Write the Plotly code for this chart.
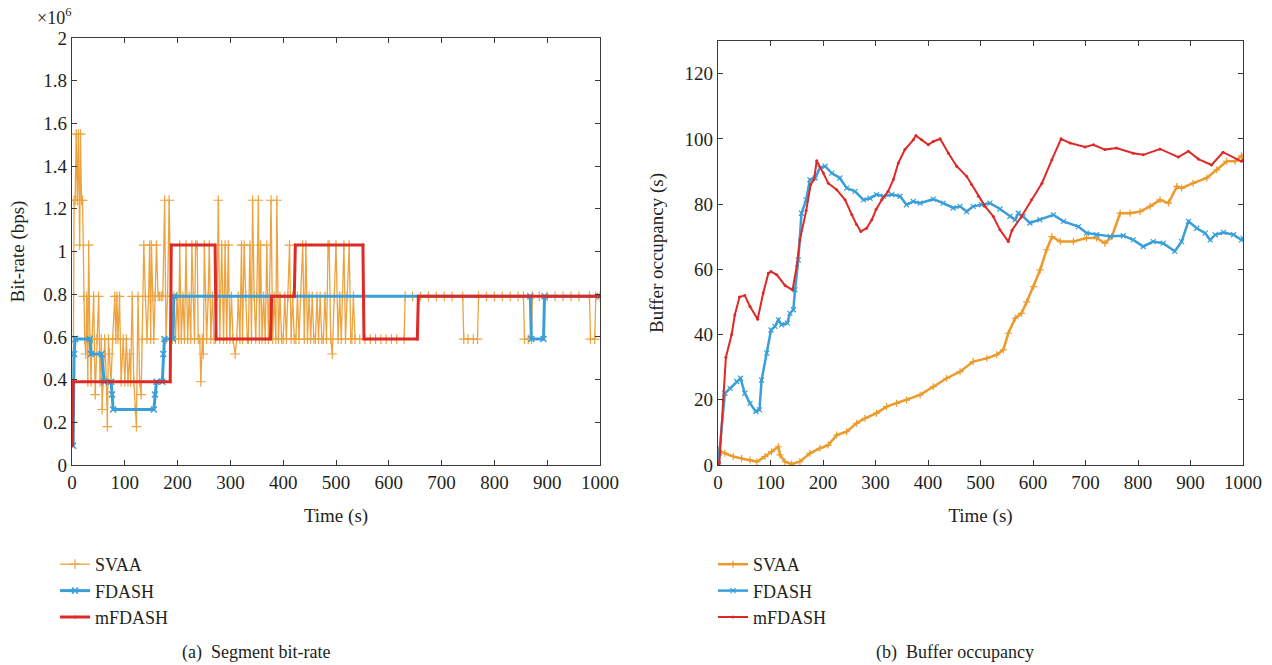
import plotly.graph_objects as go

# ---------------- (a) Segment bit-rate (values in units of 1e6 bps) ----------------
svaa_br_t = [0, 2, 4, 6, 8, 10, 12, 14.5, 16, 18, 20, 22, 24, 26, 28, 30, 31.5, 34, 36, 38,
             41, 44, 47, 50.5, 53, 55.5, 57, 59, 62, 65, 67, 69, 71, 74, 77, 81, 83, 85, 87, 90,
             93, 97, 100, 103, 106, 109, 111, 114, 117, 120, 122, 125, 128, 131, 133, 136, 139, 142, 145, 147,
             149, 150.5, 153, 155, 157.5, 160, 163, 166, 169, 172, 175.5, 178, 181, 184, 187, 190, 193, 196, 199, 202,
             204, 207, 210, 213, 216, 219, 222, 225, 227, 230, 232, 234, 237, 239, 242, 244, 247, 248.7, 250.6, 253,
             255, 258, 260, 263, 266, 269, 272, 275, 277, 280, 283.5, 287, 290, 293, 296, 299, 302, 305, 309, 312,
             315, 318, 321, 323, 326, 329, 332, 334, 337, 340, 342, 345, 348, 350, 353, 355, 357, 360, 363, 366,
             369, 372, 374, 377, 380, 383, 386, 388, 391, 394, 397, 400, 403, 406, 409, 412, 415, 418, 421, 424,
             427, 430, 433, 437, 440, 443, 446, 449, 452, 455, 458, 461, 464, 467, 470, 473, 476, 479, 482, 485,
             487, 490, 493, 497, 500, 504, 507, 510, 512, 515, 518, 521, 525, 528, 530, 533, 536, 545, 555, 565,
             575, 585, 595, 605, 615, 629, 631, 645, 660, 675, 690, 705, 720, 740, 742, 750, 760, 768, 770, 785,
             800, 815, 830, 845, 855, 857, 864, 870, 872, 885, 900, 915, 930, 945, 960, 980, 982, 990, 992, 1000]
svaa_br_v = [0.2, 0.2, 1.24, 1.24, 1.55, 1.24, 1.55, 1.03, 1.55, 1.24, 1.24, 0.79, 0.59, 0.52, 0.79, 0.39, 1.03, 0.59, 0.39, 0.59,
             0.79, 0.33, 0.59, 0.79, 0.39, 0.59, 0.26, 0.39, 0.59, 0.39, 0.18, 0.59, 0.52, 0.39, 0.59, 0.79, 0.59, 0.79, 0.59, 0.79,
             0.39, 0.59, 0.39, 0.59, 0.39, 0.52, 0.39, 0.79, 0.39, 0.26, 0.18, 0.79, 0.39, 0.33, 0.59, 1.03, 0.79, 0.59, 0.79, 1.03,
             0.59, 1.03, 0.79, 0.59, 0.79, 1.03, 0.79, 0.79, 0.79, 0.79, 1.24, 0.59, 0.79, 1.24, 0.79, 0.59, 0.79, 0.59, 0.79, 0.59,
             1.03, 0.59, 0.79, 0.59, 1.03, 0.59, 0.79, 0.59, 1.03, 0.79, 0.59, 1.03, 1.03, 0.59, 0.59, 0.39, 0.59, 0.52, 1.03, 0.79,
             0.59, 0.79, 1.03, 0.59, 0.79, 0.59, 0.59, 0.79, 1.24, 0.59, 1.03, 0.59, 1.03, 0.59, 1.03, 0.59, 0.79, 0.59, 0.52, 0.59,
             0.79, 0.59, 1.03, 0.59, 1.03, 0.79, 0.59, 0.59, 1.03, 0.59, 1.24, 0.79, 0.59, 0.79, 1.24, 0.59, 1.03, 0.59, 0.79, 0.59,
             1.03, 0.59, 0.79, 1.24, 0.59, 0.79, 0.59, 1.24, 0.59, 0.79, 0.59, 0.59, 0.79, 0.59, 0.79, 1.03, 0.59, 0.79, 0.59, 0.59,
             0.79, 0.59, 0.79, 1.03, 0.59, 1.03, 0.59, 0.79, 0.59, 0.79, 0.59, 0.59, 0.79, 0.59, 0.79, 0.59, 0.59, 0.79, 0.59, 1.03,
             1.03, 0.59, 0.52, 0.79, 1.03, 0.59, 0.79, 0.59, 0.79, 1.03, 0.59, 0.79, 1.03, 0.59, 0.59, 0.79, 0.59, 0.59, 0.59, 0.59,
             0.59, 0.59, 0.59, 0.59, 0.59, 0.59, 0.79, 0.79, 0.79, 0.79, 0.79, 0.79, 0.79, 0.79, 0.59, 0.59, 0.59, 0.59, 0.79, 0.79,
             0.79, 0.79, 0.79, 0.79, 0.79, 0.59, 0.59, 0.59, 0.79, 0.79, 0.79, 0.79, 0.79, 0.79, 0.79, 0.79, 0.59, 0.59, 0.79, 0.79]

fdash_br_t = [2, 4, 6, 34, 36, 56, 61, 74, 76, 78, 155, 157, 160, 171, 173, 175, 191, 193, 868, 870, 893, 895, 1000]
fdash_br_v = [0.09, 0.52, 0.59, 0.59, 0.52, 0.52, 0.39, 0.39, 0.33, 0.26, 0.26, 0.33, 0.39, 0.39, 0.52, 0.59, 0.59, 0.79,
              0.79, 0.59, 0.59, 0.79, 0.79]

mfdash_br_t = [1, 2, 186, 188, 271, 273, 376, 378, 421, 423, 551, 553, 654, 656, 1000]
mfdash_br_v = [0.09, 0.39, 0.39, 1.03, 1.03, 0.59, 0.59, 0.79, 0.79, 1.03, 1.03, 0.59, 0.59, 0.79, 0.79]

# ---------------- (b) Buffer occupancy (s) ----------------
svaa_buf_t = [1, 2.5, 13, 29, 45, 61, 74, 89.5, 102, 115, 118, 127.6, 140, 156, 175, 194, 210, 226, 245, 264,
              280, 302, 321, 340, 359, 385, 410, 435.6, 461, 486, 512, 531, 543.5, 553, 566, 578, 588, 601, 613.6, 626,
              636, 652, 677, 702, 721, 737, 750, 766, 785, 804, 823, 842, 858, 874, 883, 905, 931, 950, 969, 985,
              997, 1000]
svaa_buf_v = [4.5, 4.1, 3.6, 2.6, 2.0, 1.5, 1.0, 2.6, 4.1, 5.6, 3.1, 1.0, 0.3, 1.0, 3.6, 5.1, 6.1, 9.2, 10.2, 12.8,
              14.3, 15.9, 17.9, 18.9, 19.9, 21.5, 24.0, 26.6, 28.6, 31.7, 32.7, 33.8, 35.3, 40.4, 45.0, 46.5, 50.0, 54.7, 59.8, 66.0,
              70.0, 68.5, 68.5, 69.6, 69.6, 68.0, 70.0, 77.2, 77.2, 77.7, 79.3, 81.3, 80.3, 85.4, 84.9, 86.4, 88.0, 90.5, 93.1, 93.1,
              94.8, 94.5]

fdash_buf_t = [1, 2.5, 13, 23, 35.5, 43, 51, 61, 72, 79, 83, 93, 101, 108.6, 115, 121, 132, 137, 143.5, 146.7,
               153, 159, 168, 175, 185, 194, 204, 216.5, 232, 245, 261, 277, 289.5, 302, 315, 331, 346.7, 359, 372, 385,
               410, 429, 448, 461, 473.6, 486, 502, 518, 537, 556, 566, 572, 581, 594, 613, 639, 658, 686.5, 702, 721,
               747, 772, 791, 810, 829, 848, 870, 883, 896, 912, 928, 937.5, 947, 963, 982, 997, 1000]
fdash_buf_v = [0.5, 3.6, 22.0, 23.5, 25.6, 26.6, 22.0, 18.9, 16.4, 16.9, 26.0, 34.3, 41.4, 42.5, 44.5, 43.0, 43.5, 46.5, 47.6, 53.7,
               62.9, 77.2, 81.3, 87.5, 88.0, 91.0, 91.6, 89.5, 88.0, 84.9, 83.9, 81.3, 81.8, 82.9, 82.4, 82.9, 82.4, 79.8, 80.8, 80.3,
               81.5, 80.3, 78.8, 79.3, 77.7, 79.3, 79.8, 80.3, 78.5, 76.2, 75.2, 77.2, 76.2, 74.2, 75.2, 76.7, 74.7, 73.1, 71.1, 70.6,
               70.1, 70.3, 69.0, 67.0, 68.5, 68.0, 65.5, 68.5, 74.7, 72.6, 71.1, 69.0, 70.6, 71.3, 70.6, 69.0, 69.5]

mfdash_buf_t = [1, 2.5, 10, 15, 26, 32, 41, 51, 61, 75.5, 86, 96, 101, 112, 128, 142, 150, 156, 168, 176.5,
                183, 188, 200.6, 210, 226, 242, 255, 264, 272, 283, 293, 301, 312, 324, 334, 343.5, 356, 372, 377, 388,
                400.6, 410, 423, 439, 454.6, 473.6, 483, 496, 508.6, 524.4, 537, 553, 560, 578, 597, 617, 636, 653.5, 670.5, 699,
                715, 737, 759, 791, 810, 842, 877, 896, 915, 940, 962, 997, 1000]
mfdash_buf_v = [0.3, 0.5, 20.0, 33.0, 40.0, 46.0, 51.5, 52.0, 48.6, 44.7, 52.7, 58.8, 59.3, 58.3, 55.0, 53.7, 61.0, 69.0, 78.0, 86.0,
                87.5, 93.3, 89.5, 86.4, 84.4, 81.3, 76.7, 73.7, 71.6, 72.6, 75.2, 78.3, 81.3, 83.9, 87.5, 92.6, 96.7, 99.7, 101.0, 99.7,
                98.2, 99.2, 100.0, 95.6, 91.6, 88.5, 86.0, 82.4, 79.3, 76.2, 72.1, 68.5, 72.0, 76.2, 81.3, 86.4, 93.6, 100.0, 98.7, 97.5,
                98.2, 96.7, 97.2, 95.6, 95.1, 96.9, 94.4, 96.2, 93.8, 92.0, 95.9, 93.1, 93.5]

series_names = ["SVAA", "FDASH", "mFDASH"]
x_ticks = [0, 100, 200, 300, 400, 500, 600, 700, 800, 900, 1000]
br_ticks = [0, 0.2, 0.4, 0.6, 0.8, 1.0, 1.2, 1.4, 1.6, 1.8, 2.0]
br_tick_text = ["0", "0.2", "0.4", "0.6", "0.8", "1", "1.2", "1.4", "1.6", "1.8", "2"]
buf_ticks = [0, 20, 40, 60, 80, 100, 120]

ORANGE = "#EC9A2B"
BLUE = "#3A9FD9"
RED = "#DD2A26"
FONT = "Liberation Serif"
TXT = "#231F20"
AX = "#3a3a3a"

W, H = 1272, 665


def px(x):
    return x / W


def py(y):
    return 1 - y / H


fig = go.Figure()

# left panel
fig.add_trace(go.Scatter(x=svaa_br_t, y=svaa_br_v, mode="lines+markers", name=series_names[0],
                         line=dict(color=ORANGE, width=1.3), opacity=0.9,
                         marker=dict(symbol="cross-thin", size=7, color=ORANGE, line=dict(width=1.2, color=ORANGE)),
                         xaxis="x", yaxis="y", legend="legend", legendgroup="a1"))
fig.add_trace(go.Scatter(x=fdash_br_t, y=fdash_br_v, mode="lines+markers", name=series_names[1],
                         line=dict(color=BLUE, width=3),
                         marker=dict(symbol="x-thin", size=6, color=BLUE, line=dict(width=1.5, color=BLUE)),
                         xaxis="x", yaxis="y", legend="legend", legendgroup="a2"))
fig.add_trace(go.Scatter(x=mfdash_br_t, y=mfdash_br_v, mode="lines+markers", name=series_names[2],
                         line=dict(color=RED, width=3),
                         marker=dict(symbol="circle", size=3, color=RED),
                         xaxis="x", yaxis="y", legend="legend", legendgroup="a3"))

# right panel
fig.add_trace(go.Scatter(x=svaa_buf_t, y=svaa_buf_v, mode="lines+markers", name=series_names[0],
                         line=dict(color=ORANGE, width=2.5),
                         marker=dict(symbol="cross-thin", size=5, color=ORANGE, line=dict(width=1.2, color=ORANGE)),
                         xaxis="x2", yaxis="y2", legend="legend2", legendgroup="b1"))
fig.add_trace(go.Scatter(x=fdash_buf_t, y=fdash_buf_v, mode="lines+markers", name=series_names[1],
                         line=dict(color=BLUE, width=2.5),
                         marker=dict(symbol="x-thin", size=5, color=BLUE, line=dict(width=1.2, color=BLUE)),
                         xaxis="x2", yaxis="y2", legend="legend2", legendgroup="b2"))
fig.add_trace(go.Scatter(x=mfdash_buf_t, y=mfdash_buf_v, mode="lines+markers", name=series_names[2],
                         line=dict(color=RED, width=2),
                         marker=dict(symbol="circle", size=3, color=RED),
                         xaxis="x2", yaxis="y2", legend="legend2", legendgroup="b3"))

axis_common = dict(showline=True, linecolor=AX, linewidth=1.2, mirror="ticks", ticks="inside",
                   ticklen=5, tickwidth=1.2, tickcolor=AX, showgrid=False, zeroline=False,
                   tickfont=dict(family=FONT, size=19, color=TXT), automargin=False)

title_font = dict(family=FONT, size=19, color=TXT)

fig.update_layout(
    width=W, height=H,
    margin=dict(l=0, r=0, t=0, b=0),
    paper_bgcolor="white", plot_bgcolor="white",
    font=dict(family=FONT, color=TXT),
    xaxis=dict(domain=[px(72), px(600)], range=[0, 1000], tickvals=x_ticks, anchor="y",
               title=dict(text="Time (s)", font=title_font, standoff=16),
               **axis_common),
    yaxis=dict(domain=[py(465), py(38)], range=[0, 2], tickvals=br_ticks, ticktext=br_tick_text, anchor="x",
               title=dict(text="Bit-rate (bps)", font=title_font, standoff=13),
               **axis_common),
    xaxis2=dict(domain=[px(718), px(1243)], range=[0, 1000], tickvals=x_ticks, anchor="y2",
                title=dict(text="Time (s)", font=title_font, standoff=16),
                **axis_common),
    yaxis2=dict(domain=[py(465), py(41)], range=[0, 130], tickvals=buf_ticks, anchor="x2",
                title=dict(text="Buffer occupancy (s)", font=title_font, standoff=15),
                **axis_common),
    legend=dict(x=px(55), y=py(546), xanchor="left", yanchor="top", bgcolor="rgba(0,0,0,0)",
                font=dict(family=FONT, size=18, color=TXT), tracegroupgap=0, itemwidth=30,
                traceorder="normal"),
    legend2=dict(x=px(713), y=py(546), xanchor="left", yanchor="top", bgcolor="rgba(0,0,0,0)",
                 font=dict(family=FONT, size=18, color=TXT), tracegroupgap=0, itemwidth=30,
                 traceorder="normal"),
    showlegend=True,
    annotations=[
        dict(text="×10<sup>6</sup>", xref="paper", yref="paper", x=px(35), y=py(3), xanchor="left",
             yanchor="top", showarrow=False, font=dict(family=FONT, size=18, color=TXT)),
        dict(text="(a)  Segment bit-rate", xref="paper", yref="paper", x=px(256), y=py(652), xanchor="center",
             yanchor="middle", showarrow=False, font=dict(family=FONT, size=18, color=TXT)),
        dict(text="(b)  Buffer occupancy", xref="paper", yref="paper", x=px(955), y=py(652), xanchor="center",
             yanchor="middle", showarrow=False, font=dict(family=FONT, size=18, color=TXT)),
    ],
)

fig.write_html("out.html")
